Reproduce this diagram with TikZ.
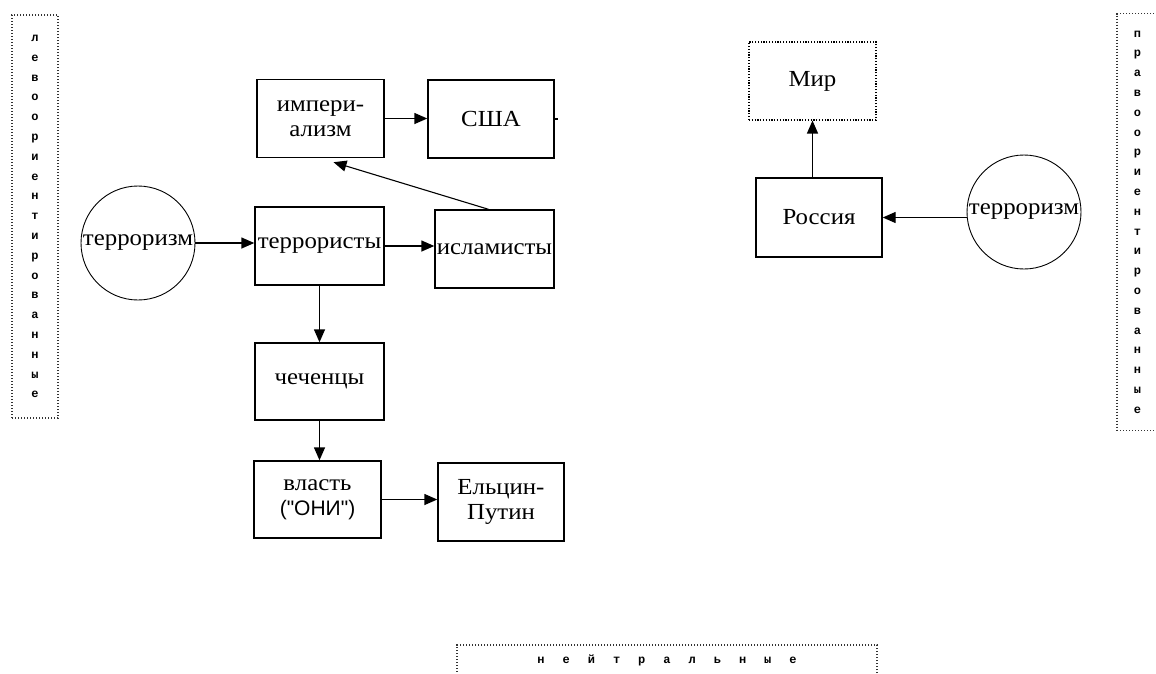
\documentclass[tikz,border=0pt]{standalone}
\usepackage{fontspec}
\setmainfont{Liberation Serif}[FakeStretch=1.08]
\newfontfamily\quotefont{Liberation Sans}
\newfontfamily\lblfont{Liberation Mono}
\usetikzlibrary{arrows.meta}

\tikzset{
  box/.style={draw, line width=1.4pt, rectangle, inner sep=0pt,
    minimum width=127pt, minimum height=78pt, align=center,
    font=\fontsize{23pt}{25pt}\selectfont},
  dotbox/.style={box, line width=1.1pt, dash pattern=on 1.2pt off 1.6pt},
  ring/.style={draw, line width=0.9pt, circle, inner sep=0pt,
    minimum size=114pt, font=\fontsize{23pt}{25pt}\selectfont},
  sidebox/.style={draw=black!80, line width=1.1pt, dash pattern=on 1.2pt off 1.8pt,
    rectangle, inner sep=0pt, align=center,
    font=\fontsize{12pt}{19.8pt}\selectfont\lblfont\bfseries},
  arr/.style={line width=1.4pt, -{Triangle[length=13pt,width=11pt]}},
}

\newcommand{\spaced}{\hspace{18pt}}

\begin{document}
\begin{tikzpicture}[x=1pt, y=-1pt]
  \useasboundingbox (0,0) rectangle (1156,673);

  % side labels
  \node[sidebox, minimum width=46pt, minimum height=403pt] (left) at (35,216.5)
    {л\\е\\в\\о\\о\\р\\и\\е\\н\\т\\и\\р\\о\\в\\а\\н\\н\\ы\\е};
  \node[sidebox, minimum width=41pt, minimum height=417pt] (right) at (1137.5,222)
    {п\\р\\а\\в\\о\\о\\р\\и\\е\\н\\т\\и\\р\\о\\в\\а\\н\\н\\ы\\е};
  \node[sidebox, minimum width=420pt, minimum height=31pt] (neutral) at (667,660.5)
    {н\spaced е\spaced й\spaced т\spaced р\spaced а\spaced л\spaced ь\spaced н\spaced ы\spaced е};

  % left group
  \node[box] (imp)   at (320.5,118.5) {импери-\\ализм};
  \node[box, minimum width=126pt] (usa) at (491,119) {США};
  \node[ring] (circL) at (138,243) {терроризм};
  \node[box, minimum width=129pt] (terr)  at (319.5,246) {террористы};
  \node[box, minimum width=119pt] (isl)   at (494.5,249) {исламисты};
  \node[box, minimum width=129pt, minimum height=77pt] (chech) at (319.5,381.5) {чеченцы};
  \node[box, minimum height=77pt] (vl) at (317.5,499.5)
    {власть\\{\quotefont\fontsize{21pt}{25pt}\selectfont("ОНИ")}};
  \node[box, minimum width=126pt] (elt) at (501,502) {Ельцин-\\Путин};

  % right group
  \node[dotbox] (mir) at (812.5,81) {Мир};
  \node[box, minimum width=126pt, minimum height=79pt] (ros) at (819,217.5) {Россия};
  \node[ring] (circR) at (1024,212) {терроризм};

  % connectors
  \draw[arr] (imp.east) -- (usa.west |- imp.east);
  \draw[line width=1.4pt] (usa.east) -- ([xshift=3pt]usa.east);
  \draw[arr] (circL.east) -- (terr.west |- circL.east);
  \draw[arr] (terr.east) -- (isl.west |- terr.east);
  \draw[arr, line width=1.1pt] ([xshift=-6pt]isl.north) -- ([xshift=13pt,yshift=-4pt]imp.south);
  \draw[arr] (terr.south) -- (chech.north);
  \draw[arr] (chech.south) -- (vl.north -| chech.south);
  \draw[arr] (vl.east) -- (elt.west |- vl.east);
  \draw[arr] (ros.north -| mir.south) -- (mir.south);
  \draw[arr] (circR.west |- ros.east) -- (ros.east);
\end{tikzpicture}
\end{document}
